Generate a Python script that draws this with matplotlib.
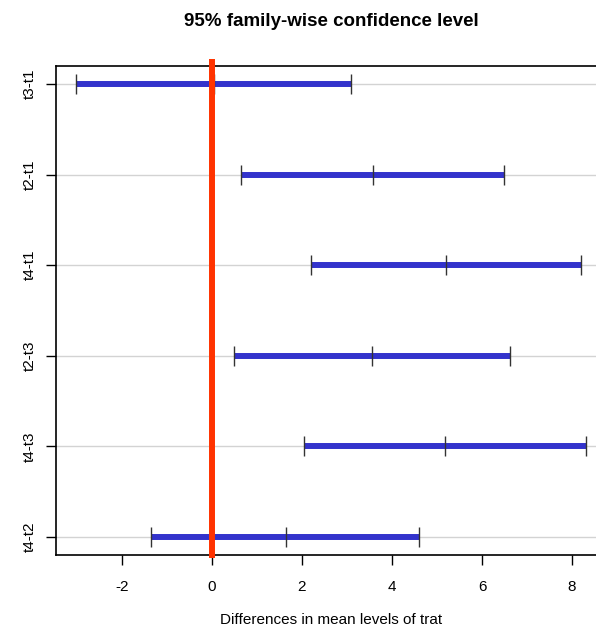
import numpy as np
import matplotlib
matplotlib.use("Agg")
import matplotlib.pyplot as plt

plt.rcParams['font.family'] = ['Liberation Sans', 'DejaVu Sans']

# Tukey HSD comparisons (top to bottom)
comparisons = ["t3-t1", "t2-t1", "t4-t1", "t2-t3", "t4-t3", "t4-t2"]
diff = [0.05, 3.57, 5.19, 3.55, 5.17, 1.64]
lwr = [-3.01, 0.64, 2.21, 0.49, 2.04, -1.35]
upr = [3.09, 6.48, 8.19, 6.61, 8.30, 4.61]
xticks = [-2, 0, 2, 4, 6, 8]

fig = plt.figure(figsize=(5.96, 6.30), dpi=100)
ax = fig.add_axes([56 / 596, 75 / 630, 550 / 596, 489 / 630])

n = len(comparisons)
yvals = np.arange(n, 0, -1)

# light gray guide lines
for y in yvals:
    ax.axhline(y, color="#d3d3d3", lw=1, zorder=1)

# confidence intervals
for y, lo, d, hi in zip(yvals, lwr, diff, upr):
    ax.plot([lo, hi], [y, y], color="#3333cc", lw=4.3, solid_capstyle="butt", zorder=2)
    ax.plot([lo, d, hi], [y, y, y], ls="none", marker="|", ms=14.4, mew=1,
            color="#333333", zorder=3)

# zero reference line
ax.axvline(0, color="#ff3300", lw=4.3, ymin=0, ymax=1.008, clip_on=False, zorder=4)

# R-style 4% axis extension
rng = max(upr) - min(lwr)
ax.set_xlim(min(lwr) - 0.04 * rng, max(upr) + 0.04 * rng)
ax.set_ylim(0.8, n + 0.2)

ax.set_xticks(xticks)
ax.set_xticklabels([str(t) for t in xticks], fontsize=11)
ax.set_yticks(yvals)
ax.set_yticklabels(comparisons, fontsize=11, rotation=90, va="center")
ax.tick_params(axis="x", length=7, width=1, pad=11)
ax.tick_params(axis="y", length=7, width=1, pad=7)

for s in ax.spines.values():
    s.set_linewidth(1.2)

ax.set_xlabel("Differences in mean levels of trat", fontsize=11, labelpad=14)
ax.set_title("95% family-wise confidence level", fontsize=13.5, fontweight="bold", pad=29)

fig.savefig("out.png", dpi=100)
